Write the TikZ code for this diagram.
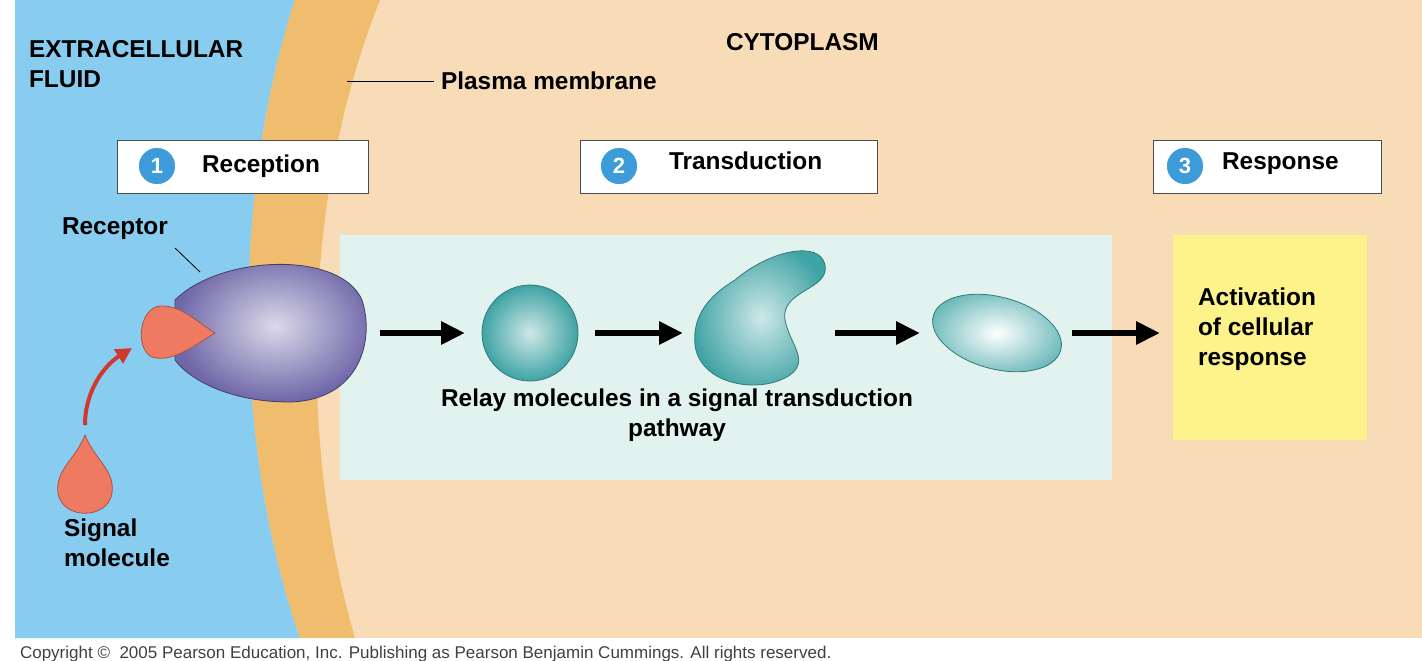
\documentclass[tikz,border=0pt]{standalone}
\usepackage{fontspec}
\setmainfont{Liberation Sans}
\usetikzlibrary{arrows.meta}
\definecolor{blu}{HTML}{88CDEF}
\definecolor{memb}{HTML}{F0BC6E}
\definecolor{cyto}{HTML}{F8DCB8}
\definecolor{panel}{HTML}{E2F2EE}
\definecolor{yel}{HTML}{FDF38A}
\definecolor{teal}{HTML}{3FA3A4}
\definecolor{recc}{HTML}{6F67A8}
\definecolor{num}{HTML}{3C9BD8}
\definecolor{salm}{HTML}{EE7A62}
\definecolor{redarr}{HTML}{D2392E}
\begin{document}
\begin{tikzpicture}[x=0.5pt,y=-0.5pt,
  lbl/.style={font=\bfseries\fontsize{12.2}{15}\selectfont, align=left},
  step/.style={draw=black!70, fill=white, minimum width=#1, minimum height=26.5pt},
  numc/.style={circle, fill=num, draw=white, thick, text=white, inner sep=1pt, minimum size=19pt, font=\bfseries\fontsize{11}{13}\selectfont},
  blob/.style={inner color=#1!25!white, outer color=#1},
  arr/.style={line width=3pt, -{Triangle[length=12pt,width=11pt]}}]
\useasboundingbox (0,0) rectangle (1422,660);
% regions
\fill[cyto] (15,0) rectangle (1422,638);
\fill[blu] (15,0) -- (295,0) .. controls (230,200) and (235,450) .. (300,638) -- (15,638) -- cycle;
\fill[memb] (295,0) .. controls (230,200) and (235,450) .. (300,638) -- (355,638) .. controls (300,450) and (300,200) .. (380,0) -- cycle;
\fill[panel] (340,235) rectangle (1112,480);
\fill[yel] (1173,235) rectangle (1367,440);
% steps
\node[step=125.5pt] (s1) at (242.5,166.5) {};
\node[numc] (n1) at (157,166) {1};
\node[lbl, anchor=west] (t1) at (195,166) {Reception};
\node[step=148.5pt] (s2) at (728.5,166.5) {};
\node[numc] (n2) at (619,166) {2};
\node[lbl, anchor=west] (t2) at (662,161) {Transduction};
\node[step=114pt] (s3) at (1267,166.5) {};
\node[numc] (n3) at (1185,166) {3};
\node[lbl, anchor=west] (t3) at (1215,164) {Response};
% labels
\node[lbl, anchor=north west] (ext) at (22,33) {EXTRACELLULAR\\FLUID};
\node[lbl, anchor=west] (cyt) at (719,42) {CYTOPLASM};
\node[lbl, anchor=west] (pm) at (434,81) {Plasma membrane};
\coordinate (pmend) at (347,81);
\draw (pmend) -- (pm.west);
\node[lbl, anchor=west] (rec) at (55,229) {Receptor};
\coordinate (recend) at (200,272);
\draw (175,248) -- (recend);
\node[lbl, anchor=north west] (sig) at (57,512) {Signal\\molecule};
\node[lbl, align=center] (relay) at (677,415) {Relay molecules in a signal transduction\\pathway};
\node[lbl, anchor=north west] (act) at (1191,281) {Activation\\of cellular\\response};
% receptor
\shade[blob=recc, draw=recc!60!black] (175,300) .. controls (220,255) and (340,250) .. (362,300) .. controls (375,340) and (360,400) .. (290,402) .. controls (230,402) and (190,380) .. (175,360) -- cycle;
% bound signal
\fill[salm, draw=salm!70!black] (215,333) .. controls (195,320) and (180,305) .. (160,306) .. controls (140,308) and (135,345) .. (150,356) .. controls (170,365) and (195,345) .. (215,333) -- cycle;
% free signal
\fill[salm, draw=salm!70!black] (85,435) .. controls (75,460) and (55,470) .. (58,493) .. controls (62,520) and (108,520) .. (112,493) .. controls (115,470) and (95,460) .. (85,435) -- cycle;
\coordinate (sigtop) at (85,425);
\coordinate (sigbound) at (132,348);
\draw[redarr, line width=2pt, -{Triangle[length=8pt,width=8pt]}] (sigtop) .. controls (85,390) and (105,365) .. (sigbound);
% relay molecules
\shade[blob=teal, draw=teal!75!black] (530,333) circle (48);
\shade[blob=teal, draw=teal!75!black] (735,280) .. controls (770,250) and (820,240) .. (825,265) .. controls (830,290) and (780,290) .. (785,320) .. controls (790,345) and (810,360) .. (790,375) .. controls (760,395) and (700,385) .. (695,345) .. controls (692,315) and (710,295) .. (735,280) -- cycle;
\shade[inner color=white, outer color=teal!75, draw=teal!75!black, rotate around={-15:(997,333)}] (997,333) ellipse (66 and 36);
% arrows
\coordinate (a1s) at (380,333); \coordinate (a1e) at (465,333);
\coordinate (a2s) at (595,333); \coordinate (a2e) at (683,333);
\coordinate (a3s) at (835,333); \coordinate (a3e) at (920,333);
\coordinate (a4s) at (1072,333); \coordinate (a4e) at (1160,333);
\draw[arr] (a1s) -- (a1e);
\draw[arr] (a2s) -- (a2e);
\draw[arr] (a3s) -- (a3e);
\draw[arr] (a4s) -- (a4e);
% copyright
\node[anchor=west, text=black!75, font=\fontsize{8.5}{10}\selectfont] (copy) at (13,654) {Copyright \textcopyright\ \ 2005 Pearson Education, Inc. Publishing as Pearson Benjamin Cummings. All rights reserved.};
\end{tikzpicture}
\end{document}
